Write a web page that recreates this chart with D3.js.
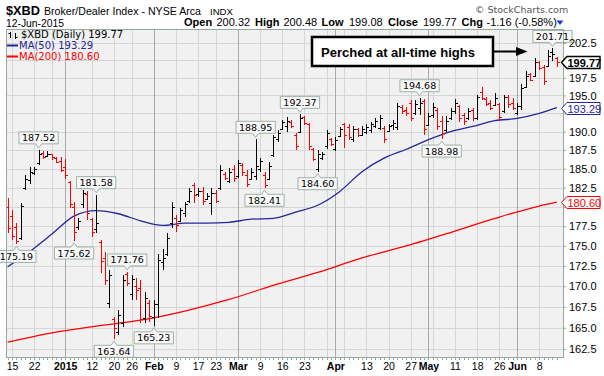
<!DOCTYPE html>
<html>
<head>
<meta charset="utf-8">
<script src="https://cdn.jsdelivr.net/npm/d3@7"></script>
<style>
  body { margin: 0; background: #fff; }
  svg text { font-family: "Liberation Sans", Arial, sans-serif; }
  .ver { font-family: "DejaVu Sans", Verdana, sans-serif !important; }
</style>
</head>
<body>
<svg id="chart" width="604" height="376"></svg>
<script>
// trading days shown on the chart
var dates = ("2014-12-12 2014-12-15 2014-12-16 2014-12-17 2014-12-18 2014-12-19 2014-12-22 2014-12-23 2014-12-24 2014-12-26 2014-12-29 2014-12-30 2014-12-31 " +
  "2015-01-02 2015-01-05 2015-01-06 2015-01-07 2015-01-08 2015-01-09 2015-01-12 2015-01-13 2015-01-14 2015-01-15 2015-01-16 2015-01-20 2015-01-21 2015-01-22 2015-01-23 2015-01-26 2015-01-27 2015-01-28 2015-01-29 2015-01-30 " +
  "2015-02-02 2015-02-03 2015-02-04 2015-02-05 2015-02-06 2015-02-09 2015-02-10 2015-02-11 2015-02-12 2015-02-13 2015-02-17 2015-02-18 2015-02-19 2015-02-20 2015-02-23 2015-02-24 2015-02-25 2015-02-26 2015-02-27 " +
  "2015-03-02 2015-03-03 2015-03-04 2015-03-05 2015-03-06 2015-03-09 2015-03-10 2015-03-11 2015-03-12 2015-03-13 2015-03-16 2015-03-17 2015-03-18 2015-03-19 2015-03-20 2015-03-23 2015-03-24 2015-03-25 2015-03-26 2015-03-27 2015-03-30 2015-03-31 " +
  "2015-04-01 2015-04-02 2015-04-06 2015-04-07 2015-04-08 2015-04-09 2015-04-10 2015-04-13 2015-04-14 2015-04-15 2015-04-16 2015-04-17 2015-04-20 2015-04-21 2015-04-22 2015-04-23 2015-04-24 2015-04-27 2015-04-28 2015-04-29 2015-04-30 " +
  "2015-05-01 2015-05-04 2015-05-05 2015-05-06 2015-05-07 2015-05-08 2015-05-11 2015-05-12 2015-05-13 2015-05-14 2015-05-15 2015-05-18 2015-05-19 2015-05-20 2015-05-21 2015-05-22 2015-05-26 2015-05-27 2015-05-28 2015-05-29 " +
  "2015-06-01 2015-06-02 2015-06-03 2015-06-04 2015-06-05 2015-06-08 2015-06-09 2015-06-10 2015-06-11 2015-06-12").split(" ");

var open = [180.0,178.8,177.4,176.0,182.5,183.5,184.4,185.8,187.1,186.7,186.9,186.4,186.0,
  185.2,183.2,180.0,177.4,180.3,181.7,178.4,177.2,175.5,173.5,168.0,166.0,164.5,165.6,171.5,169.0,170.0,169.8,166.2,168.0,
  166.3,167.8,173.0,174.0,177.9,178.6,178.2,179.2,180.7,182.8,181.6,182.0,181.0,180.5,181.8,182.4,184.3,183.4,184.9,
  184.0,185.5,184.2,183.6,184.0,185.0,184.2,183.6,186.8,189.0,190.3,190.8,191.3,189.5,190.0,192.0,191.0,187.6,185.0,186.4,188.0,189.0,
  187.6,189.4,191.0,190.6,189.0,190.3,189.6,190.0,190.2,190.8,190.5,190.5,190.1,190.9,190.6,193.4,193.0,194.0,192.5,193.2,194.2,
  190.9,192.3,193.0,191.5,190.2,191.9,192.8,193.5,192.3,191.8,193.0,191.9,195.5,194.5,194.0,193.6,193.8,192.8,194.8,194.0,
  192.6,193.5,196.2,198.0,197.8,199.7,199.0,199.2,201.2,200.32];
var high = [181.2,179.6,177.9,180.5,184.2,185.2,185.2,187.52,187.4,187.3,187.0,186.6,186.6,
  186.3,183.4,180.6,178.6,182.2,182.0,178.6,181.58,175.7,174.2,172.0,166.3,167.1,171.4,171.76,171.4,171.0,170.8,169.3,168.3,
  168.3,174.0,174.6,176.6,180.6,178.9,179.9,180.6,182.4,183.1,182.4,182.6,181.8,182.4,182.2,185.5,184.5,185.1,185.5,
  186.2,185.8,184.8,185.1,188.95,186.4,184.5,185.9,189.6,190.2,191.6,192.0,191.6,189.8,192.37,192.2,191.2,187.8,187.5,187.2,190.2,189.1,
  189.3,190.6,191.2,191.0,190.8,190.5,190.8,191.0,191.3,191.8,192.3,190.7,191.0,191.6,193.9,193.6,193.4,194.3,194.3,194.68,194.5,
  192.6,193.9,193.2,192.1,192.1,193.3,194.5,193.7,192.6,193.3,193.3,195.1,196.2,194.8,194.4,195.4,194.0,195.1,195.1,194.6,
  193.9,196.6,198.4,198.2,200.3,199.9,199.3,201.5,201.71,200.48];
var low = [176.6,175.7,175.19,175.7,182.2,183.0,184.2,185.5,186.3,186.6,186.2,185.8,184.6,
  183.6,179.8,175.62,177.0,179.9,178.3,176.1,176.6,171.6,170.2,167.4,163.64,164.1,165.1,170.0,168.3,168.3,165.6,165.6,165.7,
  165.23,166.2,172.0,173.7,177.3,176.8,178.0,178.7,180.5,180.5,181.3,180.2,180.9,178.9,180.5,182.2,183.5,183.1,183.3,
  183.8,184.0,182.6,183.5,183.5,184.6,182.41,183.5,186.6,188.6,190.2,189.9,190.5,187.5,189.8,190.9,187.5,186.0,184.60,186.2,187.7,188.1,
  187.3,189.3,187.8,188.9,188.6,189.3,189.4,189.7,189.8,190.5,190.2,188.5,190.0,190.2,190.2,192.4,192.2,191.4,192.3,192.3,189.6,
  190.7,191.8,190.2,188.98,190.0,191.6,192.4,191.3,190.9,191.6,191.5,191.6,194.3,193.5,193.0,193.5,191.6,192.6,193.3,193.0,
  192.3,193.0,196.0,197.0,197.6,198.6,196.5,199.0,199.9,199.08];
var close = [177.3,176.2,175.6,180.1,183.6,184.5,185.0,187.0,186.6,187.0,186.5,185.9,184.8,
  184.2,180.3,176.8,178.2,181.8,179.2,176.8,177.9,173.1,170.8,171.4,165.0,166.5,170.8,170.4,170.9,169.5,166.0,168.6,166.4,
  167.8,173.2,173.5,176.0,180.0,177.6,179.6,180.3,182.0,181.5,182.1,180.8,181.4,181.8,180.8,184.8,183.7,184.6,183.8,
  185.8,184.6,183.0,184.5,185.3,186.0,182.8,185.4,189.2,189.8,191.3,191.5,190.8,188.0,191.8,191.2,188.0,186.3,186.9,187.0,189.8,188.3,
  188.9,190.3,189.6,189.2,190.4,189.6,190.4,190.6,191.0,191.4,191.9,189.0,190.8,191.2,193.5,192.8,192.5,191.8,193.8,194.0,190.3,
  192.2,193.4,190.8,189.8,191.5,192.9,194.0,191.9,191.5,192.9,191.8,194.8,194.6,193.8,193.3,194.6,192.0,194.8,193.8,193.3,
  193.5,196.0,197.8,197.2,199.8,198.9,197.0,200.6,200.93,199.77];
var prevClose = 179.0; // close before the first bar

// moving averages read at sample days
var ma50Dates = ["2014-12-12","2014-12-19","2014-12-29","2015-01-06","2015-01-13","2015-01-21","2015-01-28","2015-02-04","2015-02-11","2015-02-19","2015-02-26",
  "2015-03-05","2015-03-12","2015-03-19","2015-03-26","2015-04-02","2015-04-10","2015-04-17","2015-04-24","2015-05-01","2015-05-08","2015-05-15","2015-05-22","2015-06-01","2015-06-08","2015-06-12"];
var ma50 = [172.4,174.3,176.5,178.8,179.5,179.1,178.2,177.6,177.9,177.9,178.0,178.4,178.5,179.3,180.2,182.0,184.6,186.4,187.6,188.9,190.0,190.7,191.5,191.8,192.5,193.29];
var ma200Dates = ["2014-12-12","2014-12-29","2015-01-13","2015-01-28","2015-02-11","2015-02-26","2015-03-12","2015-03-26","2015-04-10","2015-04-24","2015-05-08","2015-05-22","2015-06-08","2015-06-12"];
var ma200 = [163.3,164.4,165.2,165.9,167.0,168.4,170.1,171.7,173.5,175.0,176.7,178.5,180.1,180.60];

// labelled highs and lows
var calloutDates = ["2014-12-16","2014-12-23","2015-01-06","2015-01-13","2015-01-20","2015-01-23","2015-02-02","2015-03-06","2015-03-10","2015-03-20","2015-03-26","2015-04-29","2015-05-06","2015-06-11"];
var calloutValues = [175.19,187.52,175.62,181.58,163.64,171.76,165.23,188.95,182.41,192.37,184.60,194.68,188.98,201.71];
var calloutSide = ["low","high","low","high","low","high","low","high","low","high","low","high","low","high"];

// axes
var yTicks = [162.5,165.0,167.5,170.0,172.5,175.0,177.5,180.0,182.5,185.0,187.5,190.0,192.5,195.0,197.5,200.0,202.5];
var tickDates = ["2014-12-15","2014-12-22","2015-01-02","2015-01-12","2015-01-20","2015-01-26","2015-02-02","2015-02-09","2015-02-17","2015-02-23",
  "2015-03-02","2015-03-09","2015-03-16","2015-03-23","2015-04-01","2015-04-13","2015-04-20","2015-04-27","2015-05-01","2015-05-11","2015-05-18","2015-05-26","2015-06-01","2015-06-08"];
var tickLabels = ["15","22","2015","12","20","26","Feb","9","17","23","Mar","9","16","23","Apr","13","20","27","May","11","18","26","Jun","8"];
var monthStarts = ["2015-01-02","2015-02-02","2015-03-02","2015-04-01","2015-05-01","2015-06-01"];
var gridDates = ["2014-12-15","2014-12-22","2014-12-29","2015-01-02","2015-01-12","2015-01-20","2015-01-26","2015-02-02","2015-02-09","2015-02-17","2015-02-23",
  "2015-03-02","2015-03-09","2015-03-16","2015-03-23","2015-03-30","2015-04-01","2015-04-06","2015-04-13","2015-04-20","2015-04-27","2015-05-01","2015-05-04",
  "2015-05-11","2015-05-18","2015-05-26","2015-06-01","2015-06-08"];

var RED = "#ff0000", BLUE = "#25259a", GRID = "#d6d6d6", BORDER = "#93aa9c";

var svg = d3.select("#chart");
var L = 7, R = 563, T = 30, B = 357;

var x = d3.scalePoint().domain(dates).range([7.6, 556.9]);
var y = d3.scaleLog().domain([161.57, 204.4]).range([B, T]);
var px = function (d) { return Math.round(x(d)) + 0.5; };

// plot background + grid
svg.append("rect").attr("x", L).attr("y", T).attr("width", R - L).attr("height", B - T).attr("fill", "#f1f1f1");

svg.append("g").selectAll("line").data(yTicks).join("line")
    .attr("x1", L).attr("x2", R)
    .attr("y1", function (d) { return Math.round(y(d)) + 0.5; })
    .attr("y2", function (d) { return Math.round(y(d)) + 0.5; })
    .attr("stroke", GRID);

svg.append("g").selectAll("line").data(gridDates).join("line")
    .attr("x1", px).attr("x2", px).attr("y1", T).attr("y2", B)
    .attr("stroke", function (d) { return monthStarts.indexOf(d) >= 0 ? "#ababab" : GRID; });

// moving averages
var maLine = d3.line().x(function (d) { return x(d[0]); }).y(function (d) { return y(d[1]); }).curve(d3.curveMonotoneX);
svg.append("path").datum(d3.zip(ma200Dates, ma200)).attr("d", maLine)
    .attr("fill", "none").attr("stroke", RED).attr("stroke-width", 1.3);
svg.append("path").datum(d3.zip(ma50Dates, ma50)).attr("d", maLine)
    .attr("fill", "none").attr("stroke", BLUE).attr("stroke-width", 1.3);

// OHLC bars, red when the close is below the previous close
var bars = svg.append("g").attr("stroke-width", 1.2).attr("shape-rendering", "crispEdges");
dates.forEach(function (d, i) {
    var pc = i === 0 ? prevClose : close[i - 1];
    var col = close[i] < pc ? RED : "#000";
    var cx = px(d);
    var g = bars.append("g").attr("stroke", col);
    g.append("line").attr("x1", cx).attr("x2", cx).attr("y1", y(high[i])).attr("y2", y(low[i]));
    g.append("line").attr("x1", cx - 2.5).attr("x2", cx).attr("y1", Math.round(y(open[i])) + 0.5).attr("y2", Math.round(y(open[i])) + 0.5);
    g.append("line").attr("x1", cx).attr("x2", cx + 2.5).attr("y1", Math.round(y(close[i])) + 0.5).attr("y2", Math.round(y(close[i])) + 0.5);
});

// callouts for highs / lows
var co = svg.append("g");
calloutDates.forEach(function (d, i) {
    var cx = x(d), v = y(calloutValues[i]), h = 12;
    var g = co.append("g");
    var path = g.append("path").attr("fill", "#f8f8f8").attr("stroke", "#9fb0a6");
    var t = g.append("text").attr("class", "ver").attr("font-size", "9.5px").attr("text-anchor", "middle")
        .attr("x", cx).text(calloutValues[i].toFixed(2));
    var w = t.node().getComputedTextLength() + 6;
    var top, p;
    if (calloutSide[i] === "high") {
        var yb = v - 6; top = yb - h;
        p = "M" + (cx - w / 2) + "," + top + "H" + (cx + w / 2) + "V" + yb + "H" + (cx + 3) + "L" + cx + "," + (yb + 4) + "L" + (cx - 3) + "," + yb + "H" + (cx - w / 2) + "Z";
    } else {
        top = v + 6;
        p = "M" + (cx - w / 2) + "," + top + "H" + (cx - 3) + "L" + cx + "," + (top - 4) + "L" + (cx + 3) + "," + top + "H" + (cx + w / 2) + "V" + (top + h) + "H" + (cx - w / 2) + "Z";
    }
    path.attr("d", p);
    t.attr("y", top + 9.5);
});

// plot border
svg.append("rect").attr("x", L - 0.5).attr("y", T - 0.5).attr("width", R - L + 1).attr("height", B - T + 1)
    .attr("fill", "none").attr("stroke", BORDER);

// small day ticks along the bottom
svg.append("g").selectAll("line").data(dates).join("line")
    .attr("x1", px).attr("x2", px).attr("y1", B + 0.5).attr("y2", B + 3)
    .attr("stroke", BORDER);

// value tags on the right (last close and the two averages)
var tagVals = [ma200[ma200.length - 1], ma50[ma50.length - 1], close[close.length - 1]];

// right axis, labels hidden behind a tag are left out
var yAxis = svg.append("g").attr("transform", "translate(" + R + ",0)")
    .call(d3.axisRight(y).tickValues(yTicks).tickFormat(d3.format(".1f")).tickSize(3).tickPadding(3));
yAxis.select(".domain").remove();
yAxis.selectAll("line").attr("stroke", BORDER);
yAxis.selectAll("text").attr("font-size", "11px").attr("font-family", "Liberation Sans, Arial, sans-serif").attr("fill", "#000")
    .style("display", function (d) {
        return tagVals.some(function (v) { return Math.abs(y(v) - y(d)) < 12; }) ? "none" : null;
    });

// bottom axis
var xAxis = svg.append("g").attr("transform", "translate(0," + B + ")")
    .call(d3.axisBottom(x).tickValues(tickDates).tickFormat(function (d, i) { return tickLabels[i]; }).tickSize(0).tickPadding(6));
xAxis.select(".domain").remove();
xAxis.selectAll("text").attr("font-size", "10.5px").attr("font-family", "Liberation Sans, Arial, sans-serif").attr("fill", "#000")
    .attr("font-weight", function (d) { return monthStarts.indexOf(d) >= 0 ? "bold" : "normal"; });

function tag(val, col, bold) {
    var v = Math.round(y(val)) + 0.5;
    svg.append("path")
        .attr("d", "M" + (R - 1.5) + "," + v + "L" + (R + 4) + "," + (v - 6) + "H" + 600 + "V" + (v + 6) + "H" + (R + 4) + "Z")
        .attr("fill", "#fff").attr("stroke", col).attr("stroke-width", bold ? 1.4 : 1);
    svg.append("text").attr("x", R + 4.5).attr("y", v + 4).attr("font-size", "11px")
        .attr("font-weight", bold ? "bold" : "normal").attr("fill", bold ? "#000" : col).text(val.toFixed(2));
}
tag(tagVals[0], RED, false);
tag(tagVals[1], BLUE, false);
tag(tagVals[2], "#000", true);

// legend
var lg = svg.append("g").attr("class", "ver");
lg.append("path").attr("d", "M10.5,32V38M8.5,33.5H10.5M15.5,33V39M15.5,37.5H17.5")
    .attr("stroke", "#000").attr("fill", "none");
lg.append("text").attr("class", "ver").attr("x", 21).attr("y", 38).attr("font-size", "10px")
    .text("$XBD (Daily) " + close[close.length - 1].toFixed(2));
lg.append("line").attr("x1", 7).attr("x2", 18).attr("y1", 45.5).attr("y2", 45.5).attr("stroke", BLUE).attr("stroke-width", 2);
lg.append("text").attr("class", "ver").attr("x", 19).attr("y", 49).attr("font-size", "10px").attr("fill", BLUE)
    .text("MA(50) " + ma50[ma50.length - 1].toFixed(2));
lg.append("line").attr("x1", 7).attr("x2", 18).attr("y1", 56.5).attr("y2", 56.5).attr("stroke", RED).attr("stroke-width", 2);
lg.append("text").attr("class", "ver").attr("x", 19).attr("y", 60).attr("font-size", "10px").attr("fill", RED)
    .text("MA(200) " + ma200[ma200.length - 1].toFixed(2));

// header
svg.append("text").attr("x", 6).attr("y", 15).attr("font-size", "13px").attr("font-weight", "bold")
    .attr("textLength", 34).attr("lengthAdjust", "spacingAndGlyphs").text("$XBD");
svg.append("text").attr("x", 44).attr("y", 15).attr("font-size", "11px")
    .attr("textLength", 157).attr("lengthAdjust", "spacingAndGlyphs").text("Broker/Dealer Index - NYSE Arca");
svg.append("text").attr("x", 210).attr("y", 15).attr("font-size", "9px")
    .attr("textLength", 23).attr("lengthAdjust", "spacingAndGlyphs").text("INDX");
svg.append("text").attr("x", 6).attr("y", 26.5).attr("font-size", "10px")
    .attr("textLength", 58).attr("lengthAdjust", "spacingAndGlyphs").text("12-Jun-2015");
svg.append("text").attr("class", "ver").attr("x", 475).attr("y", 12.5).attr("font-size", "9.5px").attr("fill", "#555").text("\u00a9 StockCharts.com");

var hdr = [["Open", 184, true], [open[open.length - 1].toFixed(2), 216.5, false],
           ["High", 255, true], [high[high.length - 1].toFixed(2), 283.5, false],
           ["Low", 321.5, true], [low[low.length - 1].toFixed(2), 349, false],
           ["Close", 388, true], [close[close.length - 1].toFixed(2), 423, false],
           ["Chg", 461.5, true], ["-1.16 (-0.58%)", 486.5, false]];
hdr.forEach(function (h) {
    svg.append("text").attr("x", h[1]).attr("y", 26).attr("font-size", "11px")
        .attr("font-weight", h[2] ? "bold" : "normal").text(h[0]);
});
svg.append("path").attr("d", "M556.5,20.5H563.5L560,25Z").attr("fill", "#1638d6");

// annotation
svg.append("rect").attr("x", 312).attr("y", 37).attr("width", 181).attr("height", 29)
    .attr("fill", "#fff").attr("stroke", "#000").attr("stroke-width", 2.5);
svg.append("text").attr("x", 321).attr("y", 56.5).attr("font-size", "13px").attr("font-weight", "bold")
    .text("Perched at all-time highs");
svg.append("line").attr("x1", 494).attr("x2", 518).attr("y1", 51.5).attr("y2", 51.5).attr("stroke", "#000").attr("stroke-width", 2);
svg.append("path").attr("d", "M516,47L527.5,51.5L516,56Z").attr("fill", "#000");
</script>
</body>
</html>
